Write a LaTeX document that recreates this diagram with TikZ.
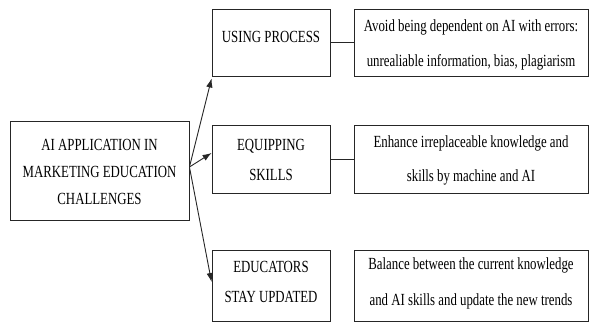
\documentclass[tikz,border=0pt]{standalone}
\usepackage{fontspec}
\setmainfont{Liberation Serif}
\usetikzlibrary{arrows.meta}
\begin{document}
\begin{tikzpicture}[x=1pt,y=1pt,
  box/.style={draw=black!85,line width=0.9pt,rectangle,inner sep=0pt},
  txt/.style={font=\fontsize{17}{30}\selectfont,align=center,inner sep=0pt,xscale=0.755,transform shape},
  conn/.style={draw=black!85,line width=0.9pt},
  arr/.style={draw=black!85,line width=0.9pt,-{Latex[length=9pt,width=6.5pt]}}]
\useasboundingbox (0,0) rectangle (589,-322);
% left box
\node[box,minimum width=179pt,minimum height=99pt] (L) at (99.5,-170.5) {};
\node[txt,font=\fontsize{17}{27}\selectfont] (Lt) at ([yshift=-1pt]L.center) {AI APPLICATION IN\\MARKETING EDUCATION\\CHALLENGES};
% middle boxes
\node[box,minimum width=118pt,minimum height=67pt] (m1) at (271,-42.5) {};
\node[box,minimum width=118pt,minimum height=68pt] (m2) at (271,-159) {};
\node[box,minimum width=118pt,minimum height=71pt] (m3) at (271,-285.5) {};
\node[txt] (m1t) at (271,-37) {USING PROCESS};
\node[txt] (m2t) at (271,-160) {EQUIPPING\\SKILLS};
\node[txt] (m3t) at (271,-282) {EDUCATORS\\STAY UPDATED};
% right boxes
\node[box,minimum width=234pt,minimum height=67pt] (r1) at (471,-42.5) {};
\node[box,minimum width=234pt,minimum height=68pt] (r2) at (471,-159) {};
\node[box,minimum width=234pt,minimum height=71pt] (r3) at (471,-285.5) {};
\node[txt,font=\fontsize{17}{35}\selectfont] (r1t) at (471,-45) {Avoid being dependent on AI with errors:\\unrealiable information, bias, plagiarism};
\node[txt,font=\fontsize{17}{34}\selectfont] (r2t) at (471,-160) {Enhance irreplaceable knowledge and\\skills by machine and AI};
\node[txt,font=\fontsize{17}{36}\selectfont] (r3t) at (471,-283) {Balance between the current knowledge\\and AI skills and update the new trends};
% connectors
\coordinate (s) at ([yshift=3.5pt]L.east);
\coordinate (e1) at ([yshift=-2pt]m1.south west);
\coordinate (e2) at ([yshift=6pt]m2.west);
\coordinate (e3) at ([yshift=3.5pt]m3.west);
\draw[arr] (s) -- (e1);
\draw[arr] (s) -- (e2);
\draw[arr] (s) -- (e3);
\draw[conn] (m1.east) -- (r1.west);
\draw[conn] (m2.east) -- (r2.west);
\end{tikzpicture}
\end{document}
